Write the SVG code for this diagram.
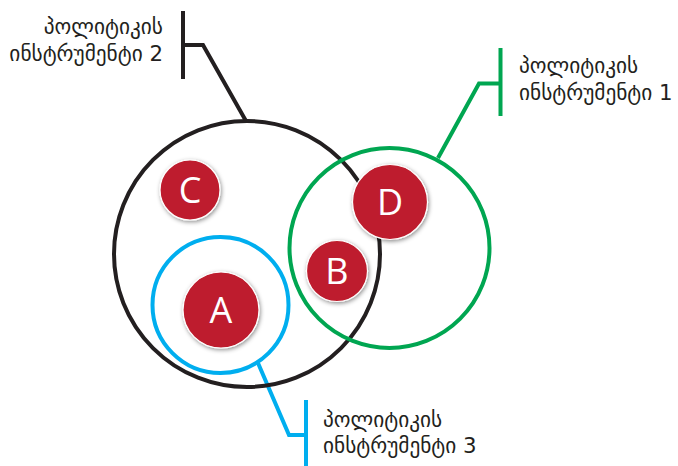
<svg xmlns="http://www.w3.org/2000/svg" width="678" height="466" viewBox="0 0 678 466">
<defs>
<filter id="sh" x="-30%" y="-30%" width="160%" height="160%">
<feDropShadow dx="1" dy="1.5" stdDeviation="2" flood-color="#000" flood-opacity="0.45"/>
</filter>
<style>
.ring{fill:none;stroke-width:4}
.lead{fill:none;stroke-width:4;stroke-linejoin:miter;stroke-linecap:butt}
.k{stroke:#231f20}.g{stroke:#00a651}.b{stroke:#00aeef}
.dot{fill:#be1e2d;stroke:#fff;stroke-width:1.2;filter:url(#sh)}
.let{font-family:"Open Sans","Liberation Sans",sans-serif;font-size:36px;fill:#fff;text-anchor:middle}
.lab{font-family:"DejaVu Sans",sans-serif;font-size:21.3px;fill:#231f20}
</style>
</defs>
<rect width="678" height="466" fill="#fff"/>
<g id="connectors">
<path class="lead k" d="M183,11V79M183,45H203L246,121"/>
<path class="lead g" d="M500.5,48V116M500.5,83.5H479L438,158"/>
<path class="lead b" d="M306,400V466M306,435H289L258,363"/>
</g>
<g id="instrument2"><circle class="ring k" cx="247" cy="254" r="133"/>
<text class="lab" text-anchor="end"><tspan x="163" y="34">პოლიტიკის</tspan><tspan x="163" y="61">ინსტრუმენტი 2</tspan></text></g>
<g id="instrument3"><circle class="ring b" cx="220.5" cy="305" r="68"/>
<text class="lab"><tspan x="323" y="427">პოლიტიკის</tspan><tspan x="323" y="453">ინსტრუმენტი 3</tspan></text></g>
<g id="instrument1"><circle class="ring g" cx="389.5" cy="248" r="100"/>
<text class="lab"><tspan x="519" y="73">პოლიტიკის</tspan><tspan x="519" y="100">ინსტრუმენტი 1</tspan></text></g>
<g id="C"><circle class="dot" cx="190" cy="190" r="30"/><text class="let" x="190" y="203">C</text></g>
<g id="D"><circle class="dot" cx="390" cy="202" r="37.5"/><text class="let" x="390" y="215">D</text></g>
<g id="B"><circle class="dot" cx="337" cy="271" r="30.5"/><text class="let" x="337" y="284">B</text></g>
<g id="A"><circle class="dot" cx="221" cy="310" r="38"/><text class="let" x="221" y="323">A</text></g>
</svg>
